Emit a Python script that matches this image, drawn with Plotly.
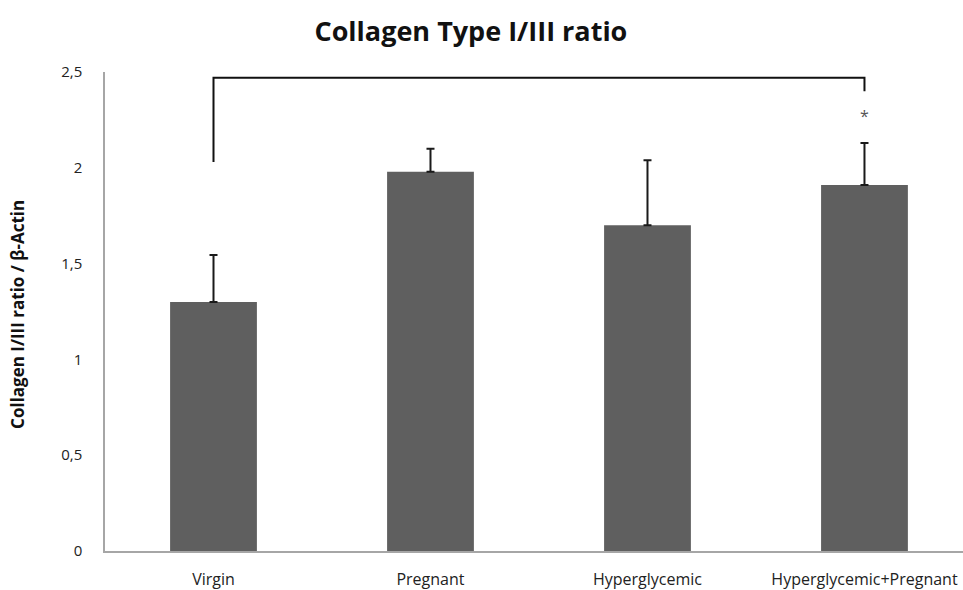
import plotly.graph_objects as go

categories = ["Virgin", "Pregnant", "Hyperglycemic", "Hyperglycemic+Pregnant"]
means = [1.30, 1.98, 1.70, 1.91]
sem = [0.245, 0.12, 0.34, 0.22]
ytick_vals = [0, 0.5, 1, 1.5, 2, 2.5]
ytick_text = ["0", "0,5", "1", "1,5", "2", "2,5"]
bracket_top = 2.47
bracket_left_end = 2.03
bracket_right_end = 2.40
star_y = 2.27

FONT = "Open Sans"

fig = go.Figure()
fig.add_trace(go.Bar(
    x=list(range(len(categories))), y=means, width=0.4,
    marker=dict(color="#5f5f5f", line=dict(color="#5f5f5f", width=0)),
    error_y=dict(type="data", array=sem, arrayminus=[0]*len(sem), symmetric=False,
                 color="#1a1a1a", thickness=2, width=4),
    showlegend=False,
))

# significance bracket
fig.add_shape(type="path",
              path=f"M 0,{bracket_left_end} L 0,{bracket_top} L 3,{bracket_top} L 3,{bracket_right_end}",
              xref="x", yref="y", line=dict(color="#111111", width=2))
fig.add_annotation(x=3, y=star_y, xref="x", yref="y", text="*", showarrow=False,
                   font=dict(family=FONT, size=16, color="#555555"))

# y axis title
fig.add_annotation(xref="paper", yref="paper", x=-0.1014, y=0.495, text="<b>Collagen I/III ratio / β-Actin</b>",
                   textangle=-90, showarrow=False, xanchor="center", yanchor="middle",
                   font=dict(family=FONT, size=17, color="#111111"))

fig.update_layout(
    width=963, height=590,
    margin=dict(l=105, r=0, t=72, b=39),
    plot_bgcolor="white", paper_bgcolor="white",
    title=dict(text="<b>Collagen Type I/III ratio</b>", x=0.489, y=0.946, xanchor="center", yanchor="middle",
               font=dict(family=FONT, size=27, color="#111111")),
    font=dict(family=FONT, color="#222222"),
)
fig.update_xaxes(range=[-0.5, 3.454], tickvals=list(range(len(categories))), ticktext=categories,
                 showline=True, linecolor="#a6a6a6", linewidth=1.5, showgrid=False, zeroline=False,
                 ticks="outside", ticklen=13, tickcolor="rgba(0,0,0,0)", automargin=False,
                 tickfont=dict(family=FONT, size=16, color="#222222"))
fig.update_yaxes(range=[0, 2.5], tickvals=ytick_vals, ticktext=ytick_text,
                 showline=True, linecolor="#a6a6a6", linewidth=1.5, showgrid=False, zeroline=False,
                 ticks="outside", ticklen=18, tickcolor="rgba(0,0,0,0)", automargin=False,
                 tickfont=dict(family=FONT, size=15, color="#222222"))

fig.write_html("out.html", config={"displayModeBar": False},
               post_script="document.body.style.margin='0';document.body.style.padding='0';")
